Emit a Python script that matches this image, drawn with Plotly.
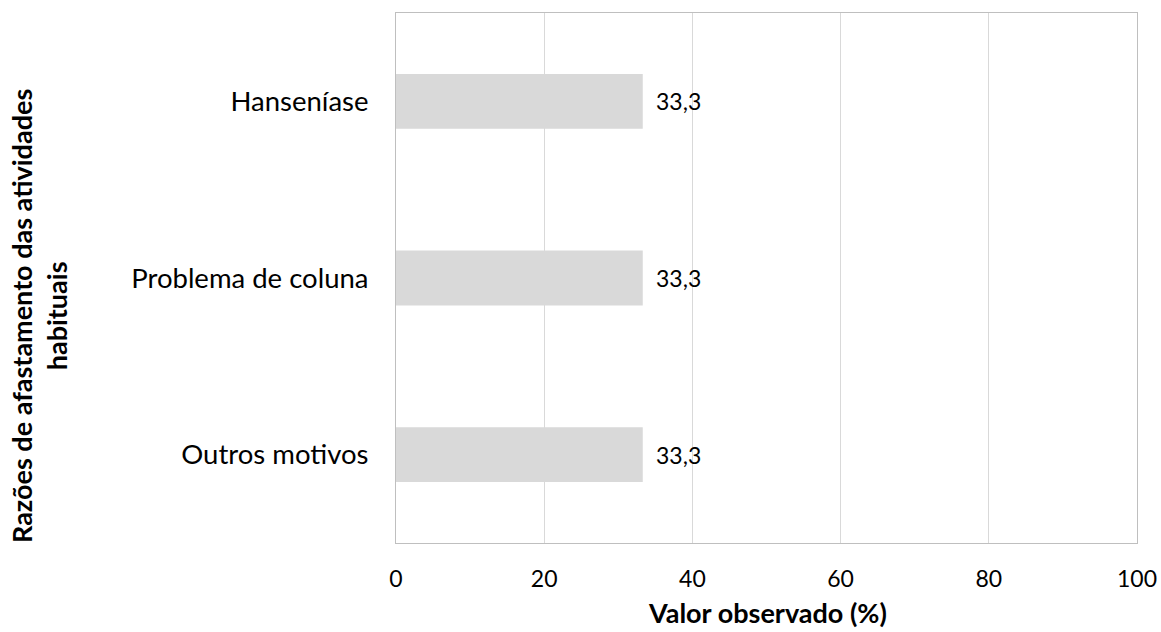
import plotly.graph_objects as go

categories = ["Outros motivos", "Problema de coluna", "Hanseníase"]
values = [33.3, 33.3, 33.3]
x_ticks = [0, 20, 40, 60, 80, 100]
x_title = "Valor observado (%)"
y_title = "Razões de afastamento das atividades<br>habituais"

FONT = "Lato"
W, H = 1161, 632
L, R, T, B = 396, 24, 13, 89
PW, PH = W - L - R, H - T - B


def px_to_paper_x(px):
    return (px - L) / PW


def px_to_paper_y(py):
    return (H - B - py) / PH


fig = go.Figure()
fig.add_trace(go.Bar(
    y=categories, x=values, orientation="h",
    marker=dict(color="#D9D9D9", line=dict(width=0)),
    hoverinfo="skip",
))

for c, v in zip(categories, values):
    fig.add_annotation(
        x=v, y=c, xref="x", yref="y",
        text=f"{v:.1f}".replace(".", ","),
        showarrow=False, xanchor="left", xshift=11,
        font=dict(family=FONT, size=23, color="#000000"),
    )

fig.add_annotation(
    x=px_to_paper_x(767), y=px_to_paper_y(612), xref="paper", yref="paper",
    text=f"<b>{x_title}</b>", showarrow=False,
    xanchor="center", yanchor="middle",
    font=dict(family=FONT, size=27, color="#000000"),
)
fig.add_annotation(
    x=px_to_paper_x(39), y=px_to_paper_y(316), xref="paper", yref="paper",
    text=f"<b>{y_title}</b>", showarrow=False, textangle=-90,
    xanchor="center", yanchor="middle",
    font=dict(family=FONT, size=27, color="#000000"),
)

fig.update_layout(
    width=W, height=H, autosize=False,
    margin=dict(l=L, r=R, t=T, b=B, autoexpand=False),
    paper_bgcolor="#FFFFFF", plot_bgcolor="#FFFFFF",
    bargap=0.69, showlegend=False,
    font=dict(family=FONT, size=23, color="#000000"),
)
fig.update_xaxes(
    range=[0, 100], tickvals=x_ticks, ticktext=[str(t) for t in x_ticks],
    showgrid=True, gridcolor="#D9D9D9", gridwidth=1,
    showline=True, linecolor="#BFBFBF", linewidth=1, mirror=True,
    zeroline=False, ticks="", ticklabelstandoff=15, automargin=False,
    tickfont=dict(family=FONT, size=23, color="#000000"),
)
fig.update_yaxes(
    showgrid=False, showline=True, linecolor="#BFBFBF", linewidth=1, mirror=True,
    ticks="", ticklabelstandoff=21, automargin=False,
    tickfont=dict(family=FONT, size=27.5, color="#000000"),
)
fig.write_html(
    "out.html",
    config={"displayModeBar": False, "responsive": False},
    post_script="document.body.style.margin='0';",
)
